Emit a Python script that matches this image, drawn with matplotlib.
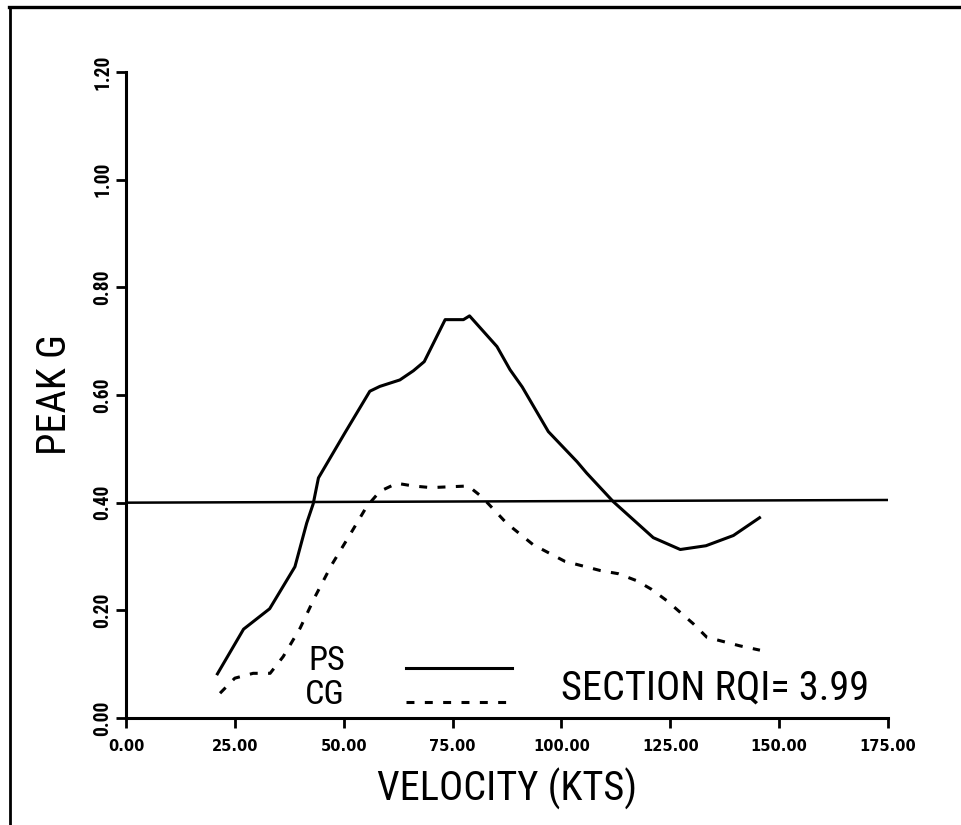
import matplotlib
matplotlib.use("Agg")
import matplotlib.pyplot as plt
import numpy as np
from matplotlib import font_manager
from matplotlib.lines import Line2D
from matplotlib.legend_handler import HandlerLine2D

# DADOS LIDOS DO GRAFICO
# curva PS (linha cheia)
ps_vel = [21.0, 27.0, 33.0, 38.8, 41.5, 43.0, 44.2, 50.3, 56.0, 58.3, 62.9, 66.0,
          68.5, 73.3, 77.5, 78.9, 85.2, 88.2, 91.0, 97.0, 103.6, 105.8, 111.9,
          121.1, 127.3, 133.2, 139.5, 145.5]
ps_g = [0.082, 0.165, 0.203, 0.281, 0.362, 0.398, 0.446, 0.530, 0.607, 0.616, 0.628, 0.645,
        0.662, 0.740, 0.740, 0.747, 0.690, 0.647, 0.615, 0.532, 0.476, 0.455, 0.402,
        0.335, 0.313, 0.320, 0.339, 0.372]

# curva CG (tracejada)
cg_vel = [21.6, 25.0, 29.2, 33.1, 36.1, 40.0, 43.4, 47.2, 51.4, 55.3, 58.3, 62.2, 66.0,
          70.0, 78.6, 81.7, 87.4, 93.5, 100.8, 108.9, 113.1, 117.3, 120.7, 124.2,
          130.3, 133.4, 141.0, 145.6]
cg_g = [0.046, 0.074, 0.083, 0.083, 0.114, 0.167, 0.225, 0.284, 0.340, 0.393, 0.421, 0.436, 0.431,
        0.428, 0.431, 0.411, 0.362, 0.322, 0.291, 0.274, 0.268, 0.255, 0.239, 0.218,
        0.175, 0.150, 0.134, 0.126]

# linha de referencia 0.40
ref_vel = [0.0, 175.0]
ref_g = [0.400, 0.405]

xticks = [0, 25, 50, 75, 100, 125, 150, 175]
yticks = [0.0, 0.2, 0.4, 0.6, 0.8, 1.0, 1.2]
rqi_text = "SECTION RQI= 3.99"

# PROCURA UMA FONTE ESTREITA (SE HOUVER)
nomes = set(f.name for f in font_manager.fontManager.ttflist)
estreita = None
for n in ["Liberation Sans Narrow", "DejaVu Sans Condensed", "Roboto Condensed",
          "Open Sans Condensed", "Noto Sans Condensed"]:
    if n in nomes:
        estreita = n
        break
condensadas = [f for f in font_manager.fontManager.ttflist
               if f.name == "DejaVu Sans" and f.stretch == "condensed"]
if estreita is not None:
    FAM, STR, K = estreita, "normal", 1.12
elif condensadas:
    FAM, STR, K = "DejaVu Sans", "condensed", 1.1
else:
    FAM, STR, K = "DejaVu Sans", "normal", 1.0


# LINHA DA LEGENDA UM POUCO ABAIXO DO CENTRO DO TEXTO
class HandlerBaixo(HandlerLine2D):
    def create_artists(self, legend, orig_handle, xdescent, ydescent, width, height,
                       fontsize, trans):
        arts = super().create_artists(legend, orig_handle, xdescent, ydescent, width,
                                      height, fontsize, trans)
        for a in arts:
            a.set_ydata(np.asarray(a.get_ydata()) - 0.3 * fontsize)
        return arts


fig = plt.figure(figsize=(9.61, 8.25), dpi=100)
ax = fig.add_axes([0.1311, 0.1297, 0.7929, 0.783])

ps_line, = ax.plot(ps_vel, ps_g, color="black", lw=2.2, label="PS")
cg_line, = ax.plot(cg_vel, cg_g, color="black", lw=2.2, linestyle=(0, (2.6, 3.4)), label="CG")
ax.plot(ref_vel, ref_g, color="black", lw=1.8)

ax.set_xlim(0, 175)
ax.set_ylim(0, 1.2)
ax.spines["top"].set_visible(False)
ax.spines["right"].set_visible(False)
ax.spines["left"].set_linewidth(2.2)
ax.spines["bottom"].set_linewidth(2.2)

ax.set_xticks(xticks)
ax.set_xticklabels(["%.2f" % v for v in xticks], fontfamily="DejaVu Sans",
                   fontweight="bold", fontsize=10.5)
ax.set_yticks(yticks)
ax.set_yticklabels(["%.2f" % v for v in yticks], fontfamily=FAM, fontstretch=STR,
                   fontweight="bold", fontsize=12.6 * K, rotation=90, va="center")
ax.tick_params(axis="both", direction="out", length=7, width=2, color="black")
ax.tick_params(axis="x", pad=8)
ax.tick_params(axis="y", pad=3)

ax.set_xlabel("VELOCITY (KTS)", fontfamily=FAM, fontstretch=STR, fontsize=26 * K, labelpad=10)
ax.set_ylabel("PEAK G", fontfamily=FAM, fontstretch=STR, fontsize=26 * K, labelpad=14)

leg = ax.legend(loc="lower left", bbox_to_anchor=(0.235, 0.011), markerfirst=False,
                frameon=False, prop={"family": FAM, "stretch": STR, "size": 22 * K},
                handlelength=3.1, handletextpad=1.8, labelspacing=0.05,
                borderpad=0.0, borderaxespad=0.0,
                handler_map={Line2D: HandlerBaixo()})

ax.text(0.571, 0.028, rqi_text, transform=ax.transAxes, fontfamily=FAM, fontstretch=STR,
        fontsize=26 * K, ha="left", va="baseline")

# moldura da pagina (topo e esquerda)
fig.add_artist(Line2D([0.0094, 1.0], [0.9915, 0.9915], transform=fig.transFigure,
                      color="black", lw=2.4))
fig.add_artist(Line2D([0.0104, 0.0104], [0.0, 0.9915], transform=fig.transFigure,
                      color="black", lw=2.0))

fig.savefig("out.png", dpi=100)
